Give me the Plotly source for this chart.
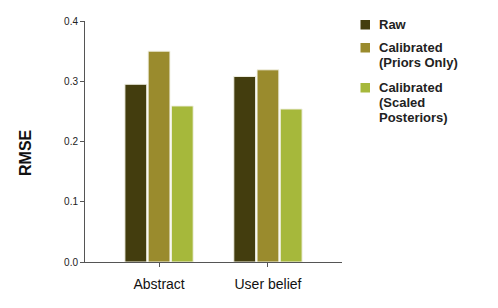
import plotly.graph_objects as go

categories = ["Abstract", "User belief"]
series_names = ["Raw", "Calibrated<br>(Priors Only)", "Calibrated<br>(Scaled<br>Posteriors)"]
raw = [0.295, 0.308]
priors_only = [0.350, 0.319]
scaled_post = [0.259, 0.254]
y_ticks = [0.0, 0.1, 0.2, 0.3, 0.4]
y_tick_labels = ["0.0", "0.1", "0.2", "0.3", "0.4"]

colors = ["#433D0E", "#9A8B2D", "#A6B83B"]
values = [raw, priors_only, scaled_post]

OFF = 8  # page body margin
W, H = 498 - OFF, 308 - OFF
# plot area in screen pixels: x 85..342, y 21..262
L, T = 85 - OFF, 21 - OFF
R, B = W - (342 - OFF), H - (262 - OFF)
PW, PH = W - L - R, H - T - B


def px_x(sx):
    return (sx - OFF - L) / PW


def px_y(sy):
    return (H - B - (sy - OFF)) / PH


fig = go.Figure()
for name, vals, col in zip(series_names, values, colors):
    fig.add_trace(go.Bar(
        x=categories, y=vals, name=name, showlegend=False,
        marker=dict(color=col, line=dict(color="#F2F2E6", width=1)),
    ))

# manual legend (square + per-line text)
shapes = []
annotations = []
sq_tops = [20, 43, 83]
for name, col, top in zip(series_names, colors, sq_tops):
    shapes.append(dict(type="rect", xref="paper", yref="paper",
                       x0=px_x(360.5), x1=px_x(370), y0=px_y(top), y1=px_y(top + 9.5),
                       fillcolor=col, line=dict(width=0)))
    for j, line in enumerate(name.split("<br>")):
        cy = top + 4.5 + 15 * j
        annotations.append(dict(text="<b>" + line + "</b>", xref="paper", yref="paper",
                                x=px_x(377), y=px_y(cy), xanchor="left", yanchor="middle",
                                showarrow=False, font=dict(size=13, color="#222")))

annotations.append(dict(text="<b>RMSE</b>", xref="paper", yref="paper",
                        x=px_x(25), y=px_y(153), xanchor="center", yanchor="middle",
                        textangle=-90, showarrow=False, font=dict(size=16, color="#111")))

fig.update_layout(
    width=W, height=H,
    margin=dict(l=L, r=R, t=T, b=B, autoexpand=False),
    paper_bgcolor="white", plot_bgcolor="white",
    barmode="group", bargap=0.36, bargroupgap=0.06,
    font=dict(family="Liberation Sans, Arial, sans-serif", color="#222"),
    showlegend=False,
    shapes=shapes, annotations=annotations,
    xaxis=dict(range=[-0.68, 1.68], showline=True, linecolor="#555", linewidth=1,
               ticks="outside", ticklen=4, tickcolor="#555", automargin=False,
               ticklabelstandoff=5,
               tickfont=dict(size=14, color="#111"), showgrid=False, zeroline=False),
    yaxis=dict(range=[0, 0.4], showline=True, linecolor="#555", linewidth=1,
               ticks="outside", ticklen=4, tickcolor="#555", automargin=False,
               tickvals=y_ticks, ticktext=y_tick_labels,
               tickfont=dict(size=10, color="#222"), showgrid=False, zeroline=False),
)

fig.write_html("out.html")
